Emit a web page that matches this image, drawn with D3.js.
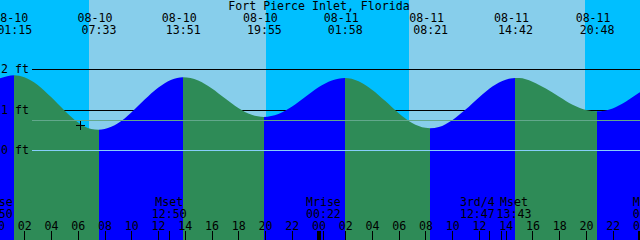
<!DOCTYPE html>
<html>
<head>
<meta charset="utf-8">
<script src="https://cdn.jsdelivr.net/npm/d3@7"></script>
<style>
body{margin:0;background:#fff}
svg{display:block}
text{font-family:'DejaVu Sans Mono',monospace;font-size:11.6px;fill:#000}
</style>
</head>
<body>
<div id="body"></div>
<script>
//station
let title = 'Fort Pierce Inlet, Florida'

//high / low tides
let tideTimes = ['08-10 01:15','08-10 07:33','08-10 13:51','08-10 19:55','08-11 01:58','08-11 08:21','08-11 14:42','08-11 20:48']
let tideHeights = [1.86,0.51,1.81,0.83,1.79,0.55,1.79,0.97]
let tideTypes = ['H','L','H','L','H','L','H','L']

//heights every hour, 08-10 00:00 .. 08-12 01:00
let hourlyHeights = [1.76,1.86,1.81,1.62,1.32,0.99,0.70,0.53,0.53,0.67,
0.94,1.26,1.55,1.75,1.81,1.73,1.54,1.29,1.05,0.88,
0.83,0.90,1.08,1.32,1.56,1.73,1.79,1.71,1.50,1.22,
0.92,0.68,0.56,0.58,0.75,1.01,1.31,1.58,1.75,1.79,
1.70,1.53,1.33,1.13,1.00,0.97,1.04,1.21,1.43,1.61]

//sunrise / sunset
let sunTimes = ['08-10 06:50','08-10 20:04','08-11 06:46','08-11 19:56']
let sunTypes = ['rise','set','rise','set']

//moon events
let moonTimes = ['08-09 23:50','08-10 12:50','08-11 00:22','08-11 12:47','08-11 13:43','08-12 00:48']
let moonLabels = ['Mrise','Mset','Mrise','3rd/4','Mset','Mrise']

//depth lines
let depthLevels = [2,1,0]
let depthLabels = ['2 ft','1 ft','0 ft']
let meanLevel = 0.74

//hour ticks
let hourTicks = [0,2,4,6,8,10,12,14,16,18,20,22,24,26,28,30,32,34,36,38,40,42,44,46,48]
let hourLabels = ['00','02','04','06','08','10','12','14','16','18','20','22','00','02','04','06','08','10','12','14','16','18','20','22','00']

//current time mark
let nowTime = '08-10 06:10'
let nowHeight = 0.62

let size = {width: 640, height: 240}
let colors = {night: '#00bfff', day: '#87ceeb', flood: '#0000ff', ebb: '#2e8b57', mean: '#62a88c', datum: '#87cefa'}

//hours since 08-10 00:00
let hrs = s => {
let [md, hm] = s.split(' ')
let day = +md.split('-')[1]
let [hh, mm] = hm.split(':')
return (day - 10) * 24 + (+hh) + mm / 60
}

let svg = d3.select('#body')
.append('svg')
.attr('width', size.width)
.attr('height', size.height)

let xScale = d3.scaleLinear().domain([0, 48]).range([-2.4, 639.4])
let yScale = d3.scaleLinear().domain([0, 2]).range([150.5, 69.5])

//sky
let sun = sunTimes.map((t, i) => ({t: hrs(t), type: sunTypes[i]}))
let skyEdges = [-2].concat(sun.map(d => d.t), [50])
let sky = skyEdges.slice(0, -1).map((t, i) => ({
a: t, b: skyEdges[i + 1],
color: i < sun.length ? (sun[i].type == 'rise' ? colors.night : colors.day) : colors.night
}))
svg.append('g')
.selectAll('rect')
.data(sky)
.join('rect')
.attr('x', d => xScale(d.a))
.attr('width', d => xScale(d.b) - xScale(d.a))
.attr('y', 0)
.attr('height', size.height)
.attr('fill', d => d.color)
.attr('shape-rendering', 'crispEdges')

//black depth lines behind the water
svg.append('g')
.selectAll('line')
.data(depthLevels.filter(d => d > 0))
.join('line')
.attr('x1', 32)
.attr('x2', size.width)
.attr('y1', d => yScale(d))
.attr('y2', d => yScale(d))
.attr('stroke', '#000')
.attr('shape-rendering', 'crispEdges')

//water
let tides = tideTimes.map((t, i) => ({t: hrs(t), h: tideHeights[i], type: tideTypes[i]}))
let pts = hourlyHeights.map((h, i) => ({t: i, h: h}))
.filter(p => tides.every(e => Math.abs(e.t - p.t) > 0.25))
.concat(tides.map(e => ({t: e.t, h: e.h})))
.sort((a, b) => a.t - b.t)

let area = d3.area()
.x(d => xScale(d.t))
.y0(size.height)
.y1(d => yScale(d.h))
.curve(d3.curveMonotoneX)

svg.append('clipPath')
.attr('id', 'water')
.append('path')
.attr('d', area(pts))

let tideEdges = [-2].concat(tides.map(d => d.t), [50])
let water = tideEdges.slice(0, -1).map((t, i) => ({
a: t, b: tideEdges[i + 1],
color: i < tides.length ? (tides[i].type == 'H' ? colors.flood : colors.ebb) : (tides[i - 1].type == 'L' ? colors.flood : colors.ebb)
}))
svg.append('g')
.attr('clip-path', 'url(#water)')
.selectAll('rect')
.data(water)
.join('rect')
.attr('x', d => xScale(d.a))
.attr('width', d => xScale(d.b) - xScale(d.a))
.attr('y', 0)
.attr('height', size.height)
.attr('fill', d => d.color)
.attr('shape-rendering', 'crispEdges')

//mean and datum lines on top
svg.append('g')
.selectAll('line')
.data([{v: meanLevel, c: colors.mean}, {v: 0, c: colors.datum}])
.join('line')
.attr('x1', 32)
.attr('x2', size.width)
.attr('y1', d => yScale(d.v))
.attr('y2', d => yScale(d.v))
.attr('stroke', d => d.c)
.attr('shape-rendering', 'crispEdges')

//depth labels
svg.append('g')
.selectAll('text')
.data(depthLevels)
.join('text')
.attr('x', 1)
.attr('y', d => yScale(d) + 3.7)
.text((d, i) => depthLabels[i])

//title
svg.append('text')
.attr('x', 319)
.attr('y', 10)
.attr('text-anchor', 'middle')
.text(title)

//tide event labels
let tideLab = svg.append('g')
.selectAll('g')
.data(tides)
.join('g')
tideLab.append('text')
.attr('x', d => xScale(d.t) - 3.5)
.attr('y', 21.5)
.attr('text-anchor', 'middle')
.text((d, i) => tideTimes[i].split(' ')[0])
tideLab.append('text')
.attr('x', d => xScale(d.t) + 0.5)
.attr('y', 34)
.attr('text-anchor', 'middle')
.text((d, i) => tideTimes[i].split(' ')[1])

//moon labels, pushed apart when they overlap
let moon = moonTimes.map((t, i) => ({t: hrs(t), label: moonLabels[i], time: t.split(' ')[1]}))
moon.forEach(d => d.cx = xScale(d.t))
for (let i = 1; i < moon.length; i++) {
let gap = moon[i].cx - moon[i - 1].cx
if (gap < 36.6) {
let mid = (moon[i].cx + moon[i - 1].cx) / 2
moon[i - 1].cx = mid - 18.3
moon[i].cx = mid + 18.3
}
}
let mg = svg.append('g')
.selectAll('g')
.data(moon)
.join('g')
mg.append('text')
.attr('x', d => d.cx)
.attr('y', 206)
.attr('text-anchor', 'middle')
.text(d => d.label)
mg.append('text')
.attr('x', d => d.cx)
.attr('y', 218)
.attr('text-anchor', 'middle')
.text(d => d.time)
mg.append('line')
.attr('x1', d => xScale(d.t))
.attr('x2', d => xScale(d.t))
.attr('y1', 231)
.attr('y2', size.height)
.attr('stroke', '#000')
.attr('shape-rendering', 'crispEdges')

//hour axis
let xAxis = d3.axisTop(xScale)
.tickValues(hourTicks)
.tickSize(9)
.tickPadding(1)
.tickFormat((d, i) => hourLabels[i])
let gX = svg.append('g')
.attr('transform', `translate(0,${size.height})`)
.call(xAxis)
gX.select('.domain').remove()
gX.selectAll('line')
.attr('stroke', '#000')
.attr('stroke-width', d => d % 24 == 0 ? 4 : 1)
.attr('shape-rendering', 'crispEdges')
gX.selectAll('text').attr('fill', '#000')

//current time mark
let nx = xScale(hrs(nowTime)), ny = yScale(nowHeight)
svg.append('path')
.attr('d', `M${nx - 4},${ny}H${nx + 5}M${nx},${ny - 4}V${ny + 5}`)
.attr('stroke', '#000')
.attr('shape-rendering', 'crispEdges')
</script>
</body>
</html>
